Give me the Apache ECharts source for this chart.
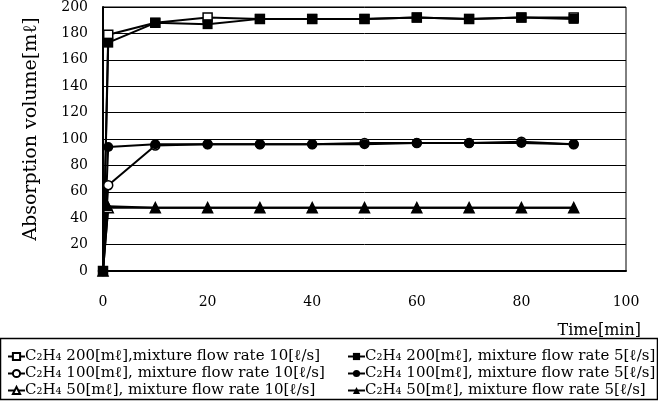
<!DOCTYPE html>
<html><head><meta charset="utf-8">
<script src="https://cdn.jsdelivr.net/npm/echarts@6/dist/echarts.min.js"></script>
<style>html,body{margin:0;padding:0;background:#fff}#c{width:658px;height:411px}</style>
</head><body><div id="c"></div>
<script>
const time = [0, 1, 10, 20, 30, 40, 50, 60, 70, 80, 90];
const s200_10 = [0, 179, 188, 192, 191, 191, 191, 192, 191, 192, 192];
const s200_5  = [0, 173, 188, 187, 191, 191, 191, 192, 191, 192, 191];
const s100_10 = [0, 65, 95, 96, 96, 96, 97, 97, 97, 98, 96];
const s100_5  = [0, 94, 96, 96, 96, 96, 96, 97, 97, 97, 96];
const s50_10  = [0, 48, 48, 48, 48, 48, 48, 48, 48, 48, 48];
const s50_5   = [0, 49, 48, 48, 48, 48, 48, 48, 48, 48, 48];
const names = [
  'C₂H₄ 200[mℓ],mixture flow rate 10[ℓ/s]',
  'C₂H₄ 100[mℓ], mixture flow rate 10[ℓ/s]',
  'C₂H₄ 50[mℓ], mixture flow rate 10[ℓ/s]',
  'C₂H₄ 200[mℓ], mixture flow rate 5[ℓ/s]',
  'C₂H₄ 100[mℓ], mixture flow rate 5[ℓ/s]',
  'C₂H₄ 50[mℓ], mixture flow rate 5[ℓ/s]'
];
const xTicks = [0, 20, 40, 60, 80, 100];
const serif = '"DejaVu Serif","Liberation Serif",serif';
function pairs(v){ return time.map((t,i)=>[t,v[i]]); }
function mk(name, vals, symbol, open, size){
  return {
    name, type:'line', data: pairs(vals), symbol, symbolSize: size,
    lineStyle:{color:'#000', width:2},
    itemStyle:{color: open ? '#fff' : '#000', borderColor:'#000', borderWidth: open ? 1.5 : 0},
    emphasis:{disabled:true}, animation:false
  };
}
const legendCommon = {orient:'vertical', top:344, itemGap:2, itemWidth:17, itemHeight:9,
  textStyle:{fontFamily:serif, fontSize:15, color:'#000', padding:[0,0,0,-5]}, selectedMode:false};
const chart = echarts.init(document.getElementById('c'), null, {renderer:'canvas'});
chart.setOption({
  animation:false,
  grid:{left:103, right:32, top:5, bottom:140, show:true, borderColor:'#000', borderWidth:1},
  title:{text:'Time[min]', right:12, top:318, textStyle:{fontFamily:serif, fontSize:16, fontWeight:'normal', color:'#000'}},
  xAxis:{type:'value', min:0, max:100, interval:20,
    axisLine:{lineStyle:{color:'#000', width:2}}, axisTick:{show:false}, splitLine:{show:false},
    axisLabel:{color:'#000', fontFamily:serif, fontSize:14, margin:24, formatter:(v)=> xTicks.includes(v)? String(v):''}},
  yAxis:{type:'value', min:0, max:200, interval:20,
    name:'Absorption volume[mℓ]', nameLocation:'middle', nameGap:62, nameRotate:90,
    nameTextStyle:{color:'#000', fontFamily:serif, fontSize:19, padding:[0,0,0,20]},
    axisLine:{show:true, lineStyle:{color:'#000', width:2}}, axisTick:{show:false},
    splitLine:{lineStyle:{color:'#000', width:1}},
    axisLabel:{color:'#000', fontFamily:serif, fontSize:14, margin:15}},
  legend:[
    Object.assign({data:[names[0],names[1],names[2]], left:2}, legendCommon),
    Object.assign({data:[names[3],names[4],names[5]], left:342}, legendCommon)
  ],
  graphic:[{type:'rect', shape:{x:0.5, y:338.5, width:657, height:61}, style:{fill:'none', stroke:'#000', lineWidth:1.5}}],
  series:[
    mk(names[0], s200_10, 'rect', true, 9),
    mk(names[1], s100_10, 'circle', true, 9),
    mk(names[2], s50_10, 'triangle', true, 10),
    mk(names[3], s200_5, 'rect', false, 10),
    mk(names[4], s100_5, 'circle', false, 10),
    mk(names[5], s50_5, 'triangle', false, 10)
  ]
});
</script></body></html>
